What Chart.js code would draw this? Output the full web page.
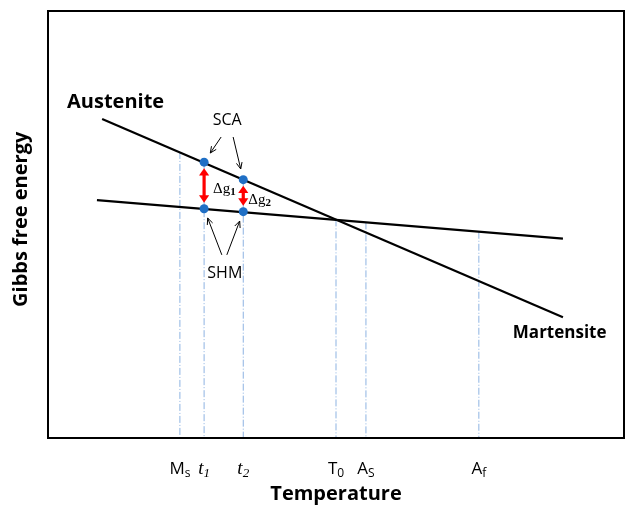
<!DOCTYPE html>
<html>
<head>
<meta charset="utf-8">
<script src="https://cdn.jsdelivr.net/npm/chart.js@4.4.1/dist/chart.umd.min.js"></script>
<style>
    body { margin: 0; background: #fff; }
    #wrap { width: 625px; height: 508px; }
</style>
</head>
<body>
<div id="wrap"><canvas id="gibbsChart"></canvas></div>
<script>
/* Gibbs free energy vs temperature - arbitrary units */

const austeniteLine = [{ x: 9.4, y: 74.7 }, { x: 89.4, y: 28.3 }];
const martensiteLine = [{ x: 8.5, y: 55.7 }, { x: 89.4, y: 46.7 }];

// marker temperatures on the axis (name + subscript)
const markerNames = ['M', 't', 't', 'T', 'A', 'A'];
const markerSubs = ['s', '1', '2', '0', 'S', 'f'];
const markerItalic = [false, true, true, false, false, false];
const markerTemps = [22.9, 27.1, 33.9, 50.0, 55.2, 74.8];
const markerTops = [67.0, 64.6, 60.5, 51.2, 50.5, 48.3];

// energies at t1 and t2
const dotTemps = [27.1, 33.9];
const scaEnergy = [64.6, 60.5];
const shmEnergy = [53.7, 53.0];
const gapSubs = ['1', '2'];

const FONT = 'Open Sans';
const SERIF = 'Liberation Serif';

function arrowHead(ctx, x0, y0, x1, y1, size, spread, filled) {
    const ang = Math.atan2(y1 - y0, x1 - x0);
    const a1 = ang + Math.PI - spread;
    const a2 = ang + Math.PI + spread;
    ctx.beginPath();
    ctx.moveTo(x1 + size * Math.cos(a1), y1 + size * Math.sin(a1));
    ctx.lineTo(x1, y1);
    ctx.lineTo(x1 + size * Math.cos(a2), y1 + size * Math.sin(a2));
    if (filled) {
        ctx.closePath();
        ctx.fill();
    } else {
        ctx.stroke();
    }
}

// text with a subscript, centred (align 'center') or left aligned at x
function subText(ctx, x, y, main, sub, mainFont, subFont, drop, align) {
    ctx.font = mainFont;
    const w1 = ctx.measureText(main).width;
    ctx.font = subFont;
    const w2 = ctx.measureText(sub).width;
    const left = align === 'center' ? x - (w1 + w2) / 2 : x;
    ctx.textAlign = 'left';
    ctx.textBaseline = 'alphabetic';
    ctx.font = mainFont;
    ctx.fillText(main, left, y);
    ctx.font = subFont;
    ctx.fillText(sub, left + w1, y + drop);
}

// pointer from a label to a dot, stopping short of the dot
function pointer(ctx, tx, ty, dx, dy, gap) {
    const len = Math.hypot(tx - dx, ty - dy);
    const hx = dx + (tx - dx) * gap / len;
    const hy = dy + (ty - dy) * gap / len;
    ctx.beginPath();
    ctx.moveTo(tx, ty);
    ctx.lineTo(hx, hy);
    ctx.stroke();
    arrowHead(ctx, tx, ty, hx, hy, 7, 0.42, false);
}

const sketchPlugin = {
    id: 'sketch',
    afterDatasetsDraw(chart) {
        const { ctx, chartArea, scales: { x, y } } = chart;
        ctx.save();

        // red double arrows (delta g)
        ctx.strokeStyle = '#ff0000';
        ctx.fillStyle = '#ff0000';
        ctx.lineWidth = 3.2;
        dotTemps.forEach((t, i) => {
            const px = x.getPixelForValue(t);
            const top = y.getPixelForValue(scaEnergy[i]) + 6;
            const bot = y.getPixelForValue(shmEnergy[i]) - 6;
            ctx.beginPath();
            ctx.moveTo(px, top + 6);
            ctx.lineTo(px, bot - 6);
            ctx.stroke();
            arrowHead(ctx, px, bot, px, top, 9, 0.6, true);
            arrowHead(ctx, px, top, px, bot, 9, 0.6, true);

            ctx.fillStyle = '#000';
            const mid = (top + bot) / 2;
            subText(ctx, px + (i === 0 ? 9 : 5), mid + 8, '\u0394g', gapSubs[i],
                `15px "${SERIF}"`, `bold 11px "${SERIF}"`, 2, 'left');
            ctx.fillStyle = '#ff0000';
        });

        // SCA / SHM labels with pointers
        ctx.fillStyle = '#000';
        ctx.strokeStyle = '#000';
        ctx.lineWidth = 1;
        ctx.textAlign = 'center';
        ctx.textBaseline = 'alphabetic';
        ctx.font = `16px "${FONT}"`;
        const scaX = x.getPixelForValue(31.1);
        const scaY = y.getPixelForValue(73.3);
        ctx.fillText('SCA', scaX, scaY);
        const shmX = x.getPixelForValue(30.7);
        const shmY = y.getPixelForValue(37.5);
        ctx.fillText('SHM', shmX, shmY);
        dotTemps.forEach((t, i) => {
            const px = x.getPixelForValue(t);
            pointer(ctx, scaX + (i === 0 ? -6 : 6), scaY + 12, px, y.getPixelForValue(scaEnergy[i]), 11);
            pointer(ctx, shmX + (i === 0 ? -3 : 2), shmY - 23, px, y.getPixelForValue(shmEnergy[i]), 10);
        });

        // phase names
        ctx.textAlign = 'left';
        ctx.font = `bold 20px "${FONT}"`;
        ctx.fillText('Austenite', x.getPixelForValue(3.3), y.getPixelForValue(77.3));
        ctx.font = `bold 17px "${FONT}"`;
        ctx.fillText('Martensite', x.getPixelForValue(80.7), y.getPixelForValue(23.4));

        // temperature markers under the axis
        markerTemps.forEach((t, i) => {
            const px = x.getPixelForValue(t);
            const main = markerItalic[i] ? `italic 19px "${SERIF}"` : `17px "${FONT}"`;
            const sub = markerItalic[i] ? `italic 13px "${SERIF}"` : `12px "${FONT}"`;
            subText(ctx, px, chartArea.bottom + 36, markerNames[i], markerSubs[i], main, sub, 3, 'center');
        });

        // frame
        ctx.lineWidth = 2;
        ctx.strokeRect(chartArea.left, chartArea.top, chartArea.right - chartArea.left, chartArea.bottom - chartArea.top);
        ctx.restore();
    }
};

const datasets = [];

datasets.push({
    data: dotTemps.flatMap((t, i) => [{ x: t, y: scaEnergy[i] }, { x: t, y: shmEnergy[i] }]),
    pointRadius: 4.5,
    pointBackgroundColor: '#1f6fc5',
    pointBorderWidth: 0,
    showLine: false,
    order: 0
});

[austeniteLine, martensiteLine].forEach(line => {
    datasets.push({
        data: line,
        showLine: true,
        borderColor: '#000',
        borderWidth: 2.2,
        pointRadius: 0,
        order: 1
    });
});

markerTemps.forEach((t, i) => {
    datasets.push({
        data: [{ x: t, y: markerTops[i] }, { x: t, y: 0 }],
        showLine: true,
        borderColor: '#8db3e2',
        borderWidth: 1,
        borderDash: [7, 2, 1, 2],
        pointRadius: 0,
        order: 2
    });
});

const ctx = document.getElementById('gibbsChart').getContext('2d');
new Chart(ctx, {
    type: 'scatter',
    data: { datasets },
    options: {
        responsive: true,
        maintainAspectRatio: false,
        animation: false,
        layout: { autoPadding: false, padding: { top: 11, right: 1, bottom: 0, left: 0 } },
        plugins: {
            legend: { display: false },
            tooltip: { enabled: false }
        },
        scales: {
            x: {
                type: 'linear',
                min: 0,
                max: 100,
                ticks: { display: false },
                grid: { display: false, drawTicks: false },
                border: { display: false },
                title: {
                    display: true,
                    text: 'Temperature',
                    color: '#000',
                    font: { family: FONT, size: 20, weight: 'bold' },
                    padding: { top: 44, bottom: 2 }
                }
            },
            y: {
                type: 'linear',
                min: 0,
                max: 100,
                ticks: { display: false },
                grid: { display: false, drawTicks: false },
                border: { display: false },
                title: {
                    display: true,
                    text: '  Gibbs free energy',
                    color: '#000',
                    font: { family: FONT, size: 20, weight: 'bold' },
                    padding: { top: 9, bottom: 15 }
                }
            }
        }
    },
    plugins: [sketchPlugin]
});
</script>
</body>
</html>
